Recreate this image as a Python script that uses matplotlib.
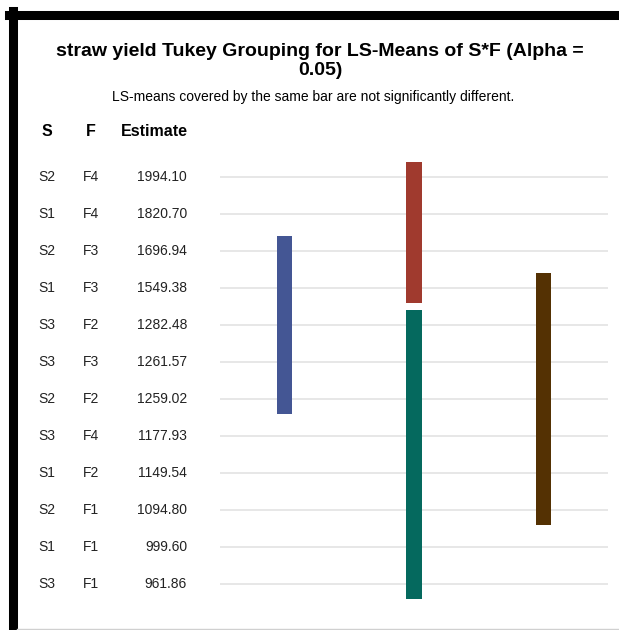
import matplotlib

matplotlib.use("Agg")
import matplotlib.pyplot as plt
from matplotlib.lines import Line2D
from matplotlib.transforms import blended_transform_factory

plt.rcParams["font.family"] = ["Liberation Sans", "DejaVu Sans"]

# table rows, top to bottom
s_levels = ["S2", "S1", "S2", "S1", "S3", "S3", "S2", "S3", "S1", "S2", "S1", "S3"]
f_levels = ["F4", "F4", "F3", "F3", "F2", "F3", "F2", "F4", "F2", "F1", "F1", "F1"]
estimates = [1994.10, 1820.70, 1696.94, 1549.38, 1282.48, 1261.57,
             1259.02, 1177.93, 1149.54, 1094.80, 999.60, 961.86]

# grouping bars: column, first row, last row
group_cols = [1, 2, 2, 3]
group_first = [2, 0, 4, 3]
group_last = [6, 3, 11, 9]
group_colors = ["#445694", "#A03A2E", "#05695E", "#543103"]

W, H = 619, 630
fig = plt.figure(figsize=(W / 100, H / 100), dpi=100)


def fx(px):
    return px / W


def fy(py):
    return 1 - py / H


# frame around the panel
fig.add_artist(Line2D([fx(9), fx(619)], [fy(15), fy(15)], color="black", lw=6.5))
fig.add_artist(Line2D([fx(13), fx(13)], [fy(11), fy(630)], color="black", lw=6.5))
fig.add_artist(Line2D([fx(17), fx(619)], [fy(629), fy(629)], color="#d0d0d0", lw=1))

ax = fig.add_axes([fx(220), fy(621), fx(608) - fx(220), (621 - 140) / H])
n = len(estimates)
rows = list(range(n))
ax.set_xlim(0.5, 3.5)
ax.set_ylim(n, -1)
ax.axis("off")

ax.hlines(rows, 0.5, 3.5, color="#e3e3e3", lw=1.2, zorder=1)

for c, a, b, col in zip(group_cols, group_first, group_last, group_colors):
    ax.bar(c, (b - a) + 0.8, bottom=a - 0.4, width=0.12, color=col, zorder=2)

# table columns
tr = blended_transform_factory(fig.transFigure, ax.transData)
for i in rows:
    ax.text(fx(47), i, s_levels[i], transform=tr, ha="center", va="center",
            fontsize=10, color="#222222")
    ax.text(fx(91), i, f_levels[i], transform=tr, ha="center", va="center",
            fontsize=10, color="#222222")
    ax.text(fx(187), i, f"{estimates[i]:.2f}", transform=tr, ha="right",
            va="center", fontsize=10, color="#222222")

fig.text(fx(47), fy(131), "S", ha="center", va="center", fontsize=11.5, fontweight="bold")
fig.text(fx(91), fy(131), "F", ha="center", va="center", fontsize=11.5, fontweight="bold")
fig.text(fx(188), fy(131), "Estimate", ha="right", va="center", fontsize=11.5,
         fontweight="bold")

fig.text(fx(320), fy(61), "straw yield Tukey Grouping for LS-Means of S*F (Alpha =\n0.05)",
         ha="center", va="center", fontsize=14, fontweight="bold", linespacing=1.15)
fig.text(fx(313), fy(97), "LS-means covered by the same bar are not significantly different.",
         ha="center", va="center", fontsize=10)

fig.savefig("out.png", dpi=100)
